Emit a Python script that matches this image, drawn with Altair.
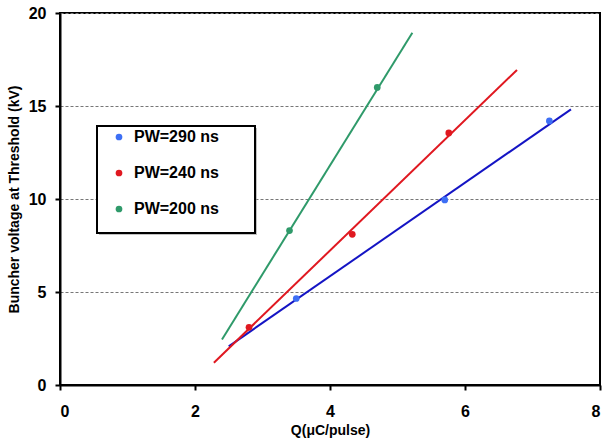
import altair as alt
import pandas as pd

# Measured points for each pulse width
series_names = ["PW=290 ns", "PW=240 ns", "PW=200 ns"]
point_colors = ["#3d6ff5", "#e01820", "#2f9a6a"]
line_colors = ["#1414c4", "#e01820", "#2f9a6a"]

q_290 = [3.50, 5.70, 7.25]
v_290 = [4.65, 9.95, 14.20]
q_240 = [2.80, 4.33, 5.76]
v_240 = [3.10, 8.10, 13.55]
q_200 = [3.40, 4.70]
v_200 = [8.30, 16.00]

# Linear fit lines: end points in (Q, V)
fit_q_start = [2.50, 2.28, 2.40]
fit_v_start = [2.08, 1.20, 2.45]
fit_q_end = [7.57, 6.77, 5.22]
fit_v_end = [14.82, 16.94, 18.94]

pts_rows = []
for name, qs, vs in zip(series_names, [q_290, q_240, q_200], [v_290, v_240, v_200]):
    for q, v in zip(qs, vs):
        pts_rows.append({"series": name, "q": q, "v": v})
points_df = pd.DataFrame(pts_rows)

line_rows = []
for name, lc, q0, v0, q1, v1 in zip(series_names, line_colors, fit_q_start, fit_v_start, fit_q_end, fit_v_end):
    line_rows.append({"series": name, "lc": lc, "q": q0, "v": v0, "o": 0})
    line_rows.append({"series": name, "lc": lc, "q": q1, "v": v1, "o": 1})
lines_df = pd.DataFrame(line_rows)

font = "Liberation Sans"

x_scale = alt.Scale(domain=[0, 8], nice=False, zero=False)
y_scale = alt.Scale(domain=[0, 20], nice=False, zero=False)

x_axis = alt.Axis(
    title="Q(\u03bcC/pulse)", values=[0, 2, 4, 6, 8], format="d", grid=False,
    labelFontSize=16, labelFontWeight="bold", labelFont=font, labelColor="black",
    labelPadding=13, tickSize=5, tickColor="black", tickWidth=2,
    domainColor="black", domainWidth=2,
    titleFontSize=14, titleFontWeight="bold", titleFont=font, titleColor="black",
    titlePadding=4,
)
y_axis = alt.Axis(
    title="Buncher voltage at Threshold (kV)", values=[0, 5, 10, 15, 20], format="d",
    grid=True, gridColor="#777777", gridDash=[3, 2], gridWidth=1,
    labelFontSize=16, labelFontWeight="bold", labelFont=font, labelColor="black",
    labelPadding=9, tickSize=5, tickColor="black", tickWidth=2,
    domainColor="black", domainWidth=2,
    titleFontSize=14, titleFontWeight="bold", titleFont=font, titleColor="black",
    titlePadding=7,
)

# Framed backdrop for the legend (with a soft drop shadow)
legend_shadow = alt.Chart(pd.DataFrame({"k": [0]})).mark_rect(
    fill="#9a9a9a", opacity=0.6
).encode(
    x=alt.value(39), x2=alt.value(197), y=alt.value(115), y2=alt.value(222)
)
legend_box = alt.Chart(pd.DataFrame({"k": [0]})).mark_rect(
    fill="white", stroke="black", strokeWidth=2
).encode(
    x=alt.value(37), x2=alt.value(195), y=alt.value(113), y2=alt.value(220)
)

lines = alt.Chart(lines_df).mark_line(strokeWidth=2).encode(
    x=alt.X("q:Q", scale=x_scale, axis=x_axis),
    y=alt.Y("v:Q", scale=y_scale, axis=y_axis),
    stroke=alt.Stroke("lc:N", scale=None),
    detail="series:N",
    order="o:Q",
)

points = alt.Chart(points_df).mark_circle(size=45, opacity=1).encode(
    x=alt.X("q:Q", scale=x_scale),
    y=alt.Y("v:Q", scale=y_scale),
    fill=alt.Fill(
        "series:N",
        scale=alt.Scale(domain=series_names, range=point_colors),
        legend=alt.Legend(
            title=None, orient="none", legendX=37, legendY=108,
            symbolType="circle", symbolSize=45, symbolStrokeWidth=0,
            symbolOffset=6, labelOffset=7,
            labelFontSize=16, labelFontWeight="bold", labelFont=font, labelColor="black",
            rowPadding=20, padding=8,
        ),
    ),
)

chart = alt.layer(legend_shadow, legend_box, lines, points).properties(
    width=540, height=372,
    autosize=alt.AutoSizeParams(type="none"),
    padding={"left": 60, "top": 13, "right": 5, "bottom": 58},
).configure_view(
    stroke="black", strokeWidth=2
)

chart.save("out.html", embed_options={"renderer": "svg", "actions": False})
